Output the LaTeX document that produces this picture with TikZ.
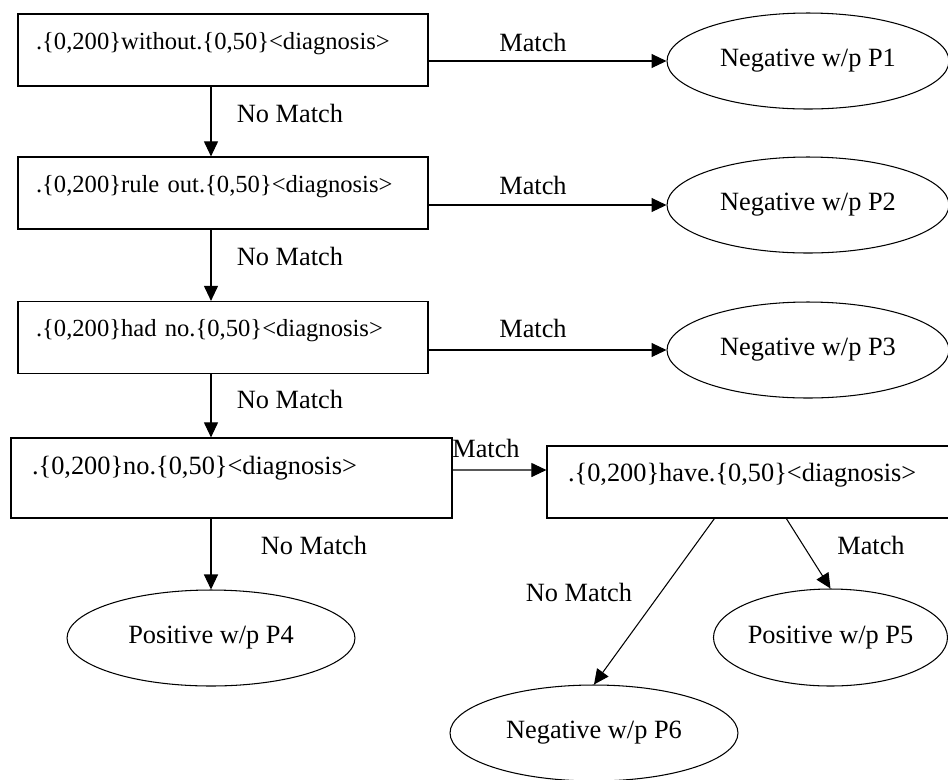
\documentclass[tikz,border=0pt]{standalone}
\usepackage{fontspec}
\setmainfont{Liberation Serif}
\usetikzlibrary{arrows.meta,shapes.geometric}

\tikzset{
  pattbox/.style={draw,line width=0.7pt,align=left,inner xsep=0.36cm,inner ysep=0pt,
    text width=7.48cm,minimum height=1.44cm,text depth=0.37cm,
    font=\fontsize{14}{17}\selectfont},
  outcome/.style={draw,ellipse,line width=0.6pt,inner sep=0pt,
    minimum width=5.76cm,minimum height=1.92cm,font=\fontsize{15}{18}\selectfont},
  lbl/.style={inner sep=0pt,font=\fontsize{15}{18}\selectfont},
  flow/.style={line width=0.6pt,-{Triangle[length=0.3cm,width=0.28cm]}}
}

\begin{document}
\begin{tikzpicture}[x=0.02cm,y=-0.02cm]
\clip (0,0) rectangle (948,779);
% pattern boxes
\node[pattbox] (b1) at (223,50) {.\{0,200\}without.\{0,50\}<diagnosis>};
\node[pattbox] (b2) at (223,193) {.\{0,200\}rule out.\{0,50\}<diagnosis>};
\node[pattbox] (b3) at (223,337.5) {.\{0,200\}had no.\{0,50\}<diagnosis>};
\node[pattbox,font=\fontsize{15}{18}\selectfont,inner xsep=0.42cm,text width=7.98cm,
  minimum height=1.6cm,text depth=0.51cm] (b4) at (231.5,478) {.\{0,200\}no.\{0,50\}<diagnosis>};
\node[pattbox,font=\fontsize{15}{18}\selectfont,inner xsep=0.42cm,text width=7.56cm,
  text depth=0.39cm] (b5) at (757,482) {.\{0,200\}have.\{0,50\}<diagnosis>};
% outcomes
\node[outcome,minimum width=5.64cm] (e1) at (808,61) {Negative w/p P1};
\node[outcome,minimum width=5.64cm] (e2) at (808,205) {Negative w/p P2};
\node[outcome,minimum width=5.64cm] (e3) at (808,350) {Negative w/p P3};
\node[outcome] (p4) at (211,638) {Positive w/p P4};
\node[outcome,minimum width=4.66cm,minimum height=1.94cm] (p5) at (830.5,637.5) {Positive w/p P5};
\node[outcome] (p6) at (594,733) {Negative w/p P6};
% connectors
\draw[flow] (b1.east |- e1) -- (e1);
\draw[flow] (b2.east |- e2) -- (e2);
\draw[flow] (b3.east |- e3) -- (e3);
\draw[flow] (b1.south -| p4) -- (b2.north -| p4);
\draw[flow] (b2.south -| p4) -- (b3.north -| p4);
\draw[flow] (b3.south -| p4) -- (b4.north -| p4);
\draw[flow] ([yshift=0.16cm]b4.east) -- ([yshift=0.24cm]b5.west);
\draw[flow] (b4.south -| p4) -- (p4);
\draw[flow] ([xshift=3.36cm]b5.south west) -- (p6.north);
\draw[flow] ([xshift=4.8cm]b5.south west) -- (p5.north);
% labels
\node[lbl] (m1) at (533,42) {Match};
\node[lbl] (m2) at (533,185) {Match};
\node[lbl] (m3) at (533,328) {Match};
\node[lbl] (m4) at (486,448) {Match};
\node[lbl] (m5) at (871,545) {Match};
\node[lbl] (n1) at (290,113) {No Match};
\node[lbl] (n2) at (290,256) {No Match};
\node[lbl] (n3) at (290,399) {No Match};
\node[lbl] (n4) at (314,545) {No Match};
\node[lbl] (n5) at (579,592) {No Match};
\end{tikzpicture}
\end{document}
